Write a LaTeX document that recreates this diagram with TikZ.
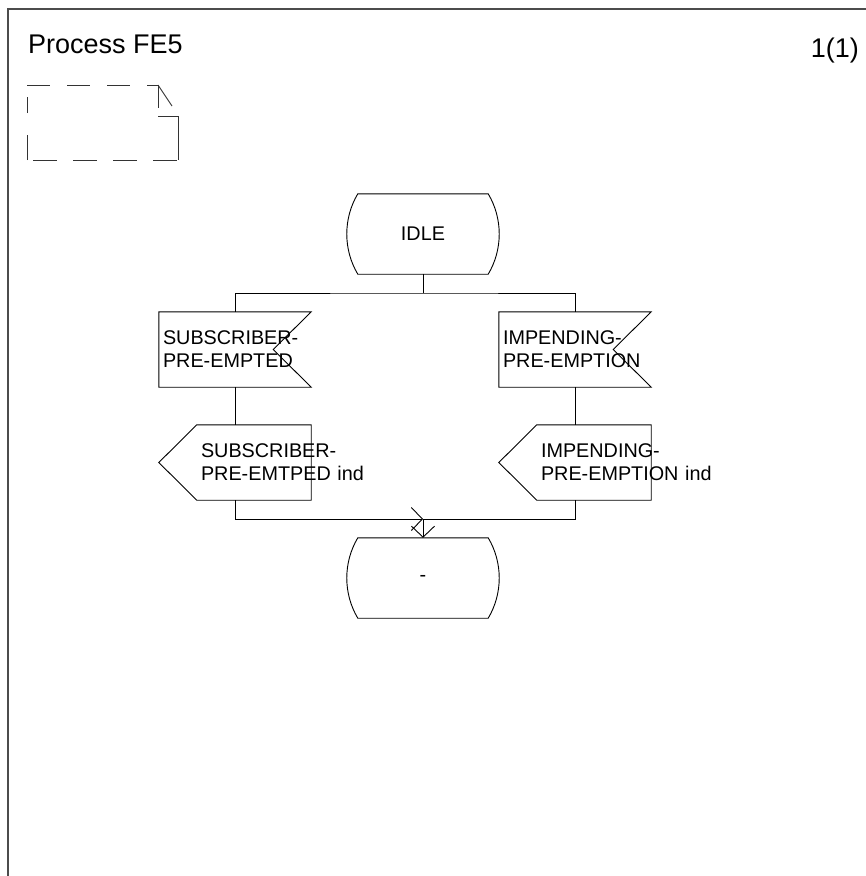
\documentclass[tikz,border=0pt]{standalone}
\usepackage{fontspec}
\setmainfont{Liberation Sans}
\usetikzlibrary{calc,arrows.meta}

\newcommand\sigfont{\fontsize{19.8}{23}\selectfont}
\newcommand\headfont{\fontsize{27}{30}\selectfont}
% one line of an output symbol, set clear of the pointed side
\newcommand\oline[1]{\mbox{\hspace{38pt}#1}}

\tikzset{
  sdlline/.style={line width=0.9pt, black},
  framestyle/.style={line width=1.4pt, black!70},
  notestyle/.style={line width=0.9pt, black!80},
  barb/.style={-{Straight Barb[length=11pt,width=23pt,line width=0.9pt]}},
  % state symbol: straight top and bottom, bulging sides
  sdlstate/.style={minimum width=152pt, minimum height=80pt, inner sep=0pt, font=\sigfont,
    append after command={\pgfextra{\let\sdln\tikzlastnode
      \draw[sdlline] ($(\sdln.north west)+(11,0)$) -- ($(\sdln.north east)+(-11,0)$)
        .. controls +(14.7,24.7) and +(14.7,-24.7) .. ($(\sdln.south east)+(-11,0)$)
        -- ($(\sdln.south west)+(11,0)$)
        .. controls +(-14.7,-24.7) and +(-14.7,24.7) .. ($(\sdln.north west)+(11,0)$) -- cycle;}}},
  % input signal: notch on the right side
  sdlinput/.style={minimum width=152pt, minimum height=75pt, text width=144pt,
    inner xsep=4pt, inner ysep=0pt, align=left, font=\sigfont,
    append after command={\pgfextra{\let\sdln\tikzlastnode
      \draw[sdlline] (\sdln.north west) -- (\sdln.north east) -- ($(\sdln.east)+(-38,0)$)
        -- (\sdln.south east) -- (\sdln.south west) -- cycle;}}},
  % output signal: point on the left side
  sdloutput/.style={minimum width=152pt, minimum height=75pt, text width=144pt,
    inner xsep=4pt, inner ysep=0pt, align=left, font=\sigfont,
    append after command={\pgfextra{\let\sdln\tikzlastnode
      \draw[sdlline] ($(\sdln.north west)+(38,0)$) -- (\sdln.north east) -- (\sdln.south east)
        -- ($(\sdln.south west)+(38,0)$) -- (\sdln.west) -- cycle;}}},
}

\begin{document}
\begin{tikzpicture}[x=1pt, y=-1pt]
\useasboundingbox (0,0) rectangle (866,876);

% page frame
\draw[framestyle] (8,876) -- (8,9) -- (866,9);

% heading
\node[anchor=base west, inner sep=0pt, font=\headfont] (title) at (28,53) {Process FE5};
\node[anchor=base east, inner sep=0pt, font=\headfont] (page) at (859,57) {1(1)};

% text extension symbol with folded corner
\draw[notestyle, dash pattern=on 23pt off 17pt] (27,85) -- (158,85);
\draw[notestyle, dash pattern=on 25pt off 22pt on 16pt off 30pt] (27,160) -- (27,85);
\draw[notestyle, dash pattern=on 24pt off 16pt, dash phase=34pt] (27,160) -- (178,160);
\draw[notestyle] (158,85) -- (158,108);
\draw[notestyle] (158,85) -- (172,106);
\draw[notestyle] (158,116) -- (178,116) -- (178,160);

% symbols
\node[sdlstate] (idle) at (423,234) {IDLE};
\node[sdlinput] (in1) at (235,349.5) {SUBSCRIBER-\\PRE-EMPTED};
\node[sdlinput] (in2) at (575,349.5) {IMPENDING-\\PRE-EMPTION};
\node[sdloutput] (out1) at (235,462.5) {\oline{SUBSCRIBER-}\\\oline{PRE-EMTPED ind}};
\node[sdloutput] (out2) at (575,462.5) {\oline{IMPENDING-}\\\oline{PRE-EMPTION ind}};
\node[sdlstate] (next) at (423,578) {-};

% flow lines
\coordinate (fork) at (423,293);
\coordinate (merge) at (423,519);
\draw[sdlline] (idle.south) -- (fork);
\draw[sdlline] (in1.north) |- (fork) -| (in2.north);
\draw[sdlline] (in1.south) -- (out1.north);
\draw[sdlline] (in2.south) -- (out2.north);
\draw[sdlline, barb] (out1.south) |- (merge);
\draw[sdlline] (out2.south) |- (merge);
\draw[sdlline, barb] (merge) -- (next.north);
\end{tikzpicture}
\end{document}
